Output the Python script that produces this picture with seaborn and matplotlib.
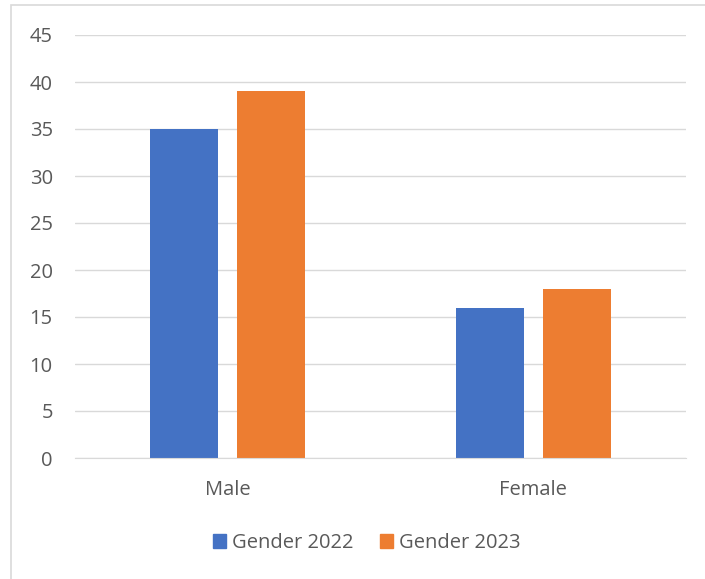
import pandas as pd
import matplotlib.pyplot as plt
import seaborn as sns
from matplotlib.patches import Rectangle

# data
categories = ["Male", "Female"]
series = ["Gender 2022", "Gender 2023"]
values_2022 = [35, 16]
values_2023 = [39, 18]
y_ticks = [0, 5, 10, 15, 20, 25, 30, 35, 40, 45]

df = pd.DataFrame({
    "gender": categories * 2,
    "series": [series[0]] * 2 + [series[1]] * 2,
    "value": values_2022 + values_2023,
})

sns.set_style("white")
plt.rcParams["font.family"] = ["Open Sans", "DejaVu Sans"]
text_color = "#595959"

fig = plt.figure(figsize=(7.05, 5.79), dpi=100)
ax = fig.add_axes([75 / 705, 1 - 458 / 579, (686 - 75) / 705, (458 - 35) / 579])

# chart border like the Excel frame
fig.patches.append(Rectangle((11 / 705, -0.05), 1.0, 1 - 5 / 579 + 0.05,
                             transform=fig.transFigure, fill=False,
                             edgecolor="#D9D9D9", linewidth=1.2))

sns.barplot(data=df, x="gender", y="value", hue="series", order=categories,
            hue_order=series, palette=["#4472C4", "#ED7D31"],
            width=0.57, gap=0.22, saturation=1, linewidth=0,
            ax=ax, legend=False)

ax.set_ylim(0, 45)
ax.set_xlim(-0.5, 1.5)
ax.set_yticks(y_ticks)
ax.yaxis.grid(True, color="#D9D9D9", linewidth=1)
ax.set_axisbelow(True)
for side in ["top", "right", "left"]:
    ax.spines[side].set_visible(False)
ax.spines["bottom"].set_color("#D9D9D9")
ax.tick_params(axis="both", length=0, labelsize=14.5, colors=text_color)
ax.tick_params(axis="y", pad=16)
ax.tick_params(axis="x", pad=16)
ax.set_xlabel("")
ax.set_ylabel("")

# legend at the bottom
handles = [Rectangle((0, 0), 1, 1, color=c) for c in ["#4472C4", "#ED7D31"]]
fig.legend(handles, series, loc="center", bbox_to_anchor=(367 / 705, 1 - 543 / 579),
           ncol=2, frameon=False, fontsize=14.5, labelcolor=text_color,
           handlelength=0.65, handleheight=0.65, handletextpad=0.3,
           columnspacing=1.3)

fig.savefig("out.png", dpi=100)
